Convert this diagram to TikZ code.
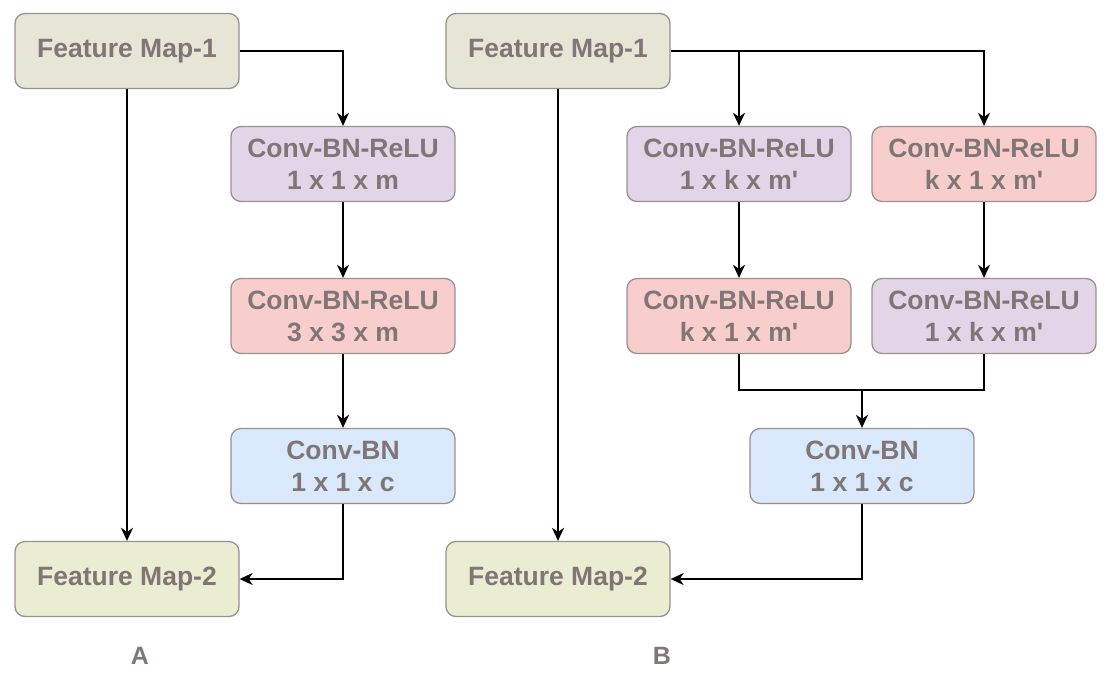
\documentclass[tikz,border=0pt]{standalone}
\usepackage{fontspec}
\setmainfont{Liberation Sans}
\usetikzlibrary{arrows.meta}
\definecolor{txt}{HTML}{807676}
\definecolor{bordc}{HTML}{9A9090}
\definecolor{fmone}{HTML}{E6E5D6}
\definecolor{fmtwo}{HTML}{EBEDD2}
\definecolor{purp}{HTML}{E1D5E7}
\definecolor{redc}{HTML}{F8CECC}
\definecolor{bluec}{HTML}{DAE8FC}
\newcommand{\prm}{\textquotesingle}
\begin{document}
\begin{tikzpicture}[x=1pt,y=-1pt,
  font=\bfseries\fontsize{26.5}{32}\selectfont,
  box/.style={draw=bordc, line width=1.3pt, rounded corners=10pt, minimum width=224pt, minimum height=75pt, align=center, text=txt, inner sep=0pt},
  arr/.style={-{Stealth[length=13pt,width=12pt,inset=4pt]}, line width=1.6pt},
  lnk/.style={line width=1.6pt},
  lbl/.style={text=txt, font=\bfseries\fontsize{25}{28}\selectfont}]
\useasboundingbox (0,0) rectangle (1119,673);
% Panel A
\node[box, fill=fmone] (a0) at (127,51) {Feature Map-1};
\node[box, fill=purp] (a1) at (343,164) {Conv-BN-ReLU\\1 x 1 x m};
\node[box, fill=redc] (a2) at (343,316) {Conv-BN-ReLU\\3 x 3 x m};
\node[box, fill=bluec] (a3) at (343,466) {Conv-BN\\1 x 1 x c};
\node[box, fill=fmtwo] (a4) at (127,579) {Feature Map-2};
\node[lbl] (la) at (140,656) {A};
\draw[arr] (a0.east) -| (a1.north);
\draw[arr] (a1.south) -- (a2.north);
\draw[arr] (a2.south) -- (a3.north);
\draw[arr] (a3.south) |- (a4.east);
\draw[arr] (a0.south) -- (a4.north);
% Panel B
\node[box, fill=fmone] (b0) at (558,51) {Feature Map-1};
\node[box, fill=purp] (b1) at (739,164) {Conv-BN-ReLU\\1 x k x m\prm};
\node[box, fill=redc] (b2) at (984,164) {Conv-BN-ReLU\\k x 1 x m\prm};
\node[box, fill=redc] (b3) at (739,316) {Conv-BN-ReLU\\k x 1 x m\prm};
\node[box, fill=purp] (b4) at (984,316) {Conv-BN-ReLU\\1 x k x m\prm};
\node[box, fill=bluec] (b5) at (862,466) {Conv-BN\\1 x 1 x c};
\node[box, fill=fmtwo] (b6) at (558,579) {Feature Map-2};
\node[lbl] (lb) at (662,656) {B};
\coordinate (m) at (862,390);
\draw[arr] (b0.east) -| (b1.north);
\draw[arr] (b0.east) -| (b2.north);
\draw[arr] (b1.south) -- (b3.north);
\draw[arr] (b2.south) -- (b4.north);
\draw[lnk] (b3.south) |- (m) -| (b4.south);
\draw[arr] (m) -- (b5.north);
\draw[arr] (b5.south) |- (b6.east);
\draw[arr] (b0.south) -- (b6.north);
\end{tikzpicture}
\end{document}
